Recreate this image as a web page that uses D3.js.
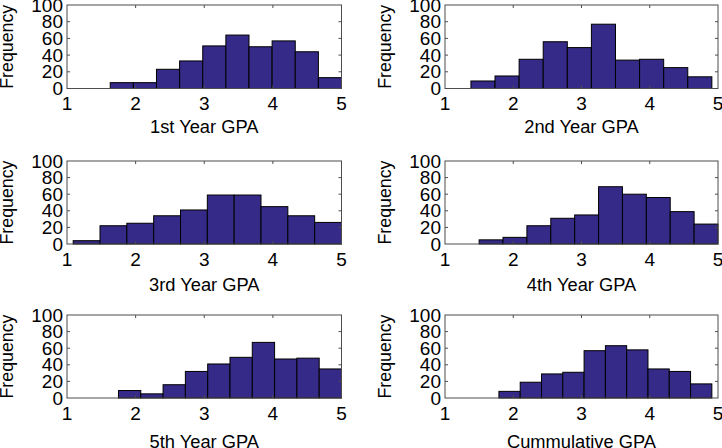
<!DOCTYPE html>
<html>
<head>
<meta charset="utf-8">
<script src="https://cdn.jsdelivr.net/npm/d3@7"></script>
<style>
  body { margin: 0; background: #fff; }
  text { font-family: "Liberation Sans", Arial, sans-serif; fill: #000; }
</style>
</head>
<body>
<div id="chart"></div>
<script>
// histogram counts per panel, 10 bins each
var titles = ["1st Year GPA", "2nd Year GPA", "3rd Year GPA", "4th Year GPA", "5th Year GPA", "Cummulative GPA"];
var counts1 = [7, 7, 23, 33, 51, 64, 50, 57, 44, 13];
var counts2 = [9, 15, 35, 56, 49, 77, 34, 35, 25, 14];
var counts3 = [4, 22, 25, 34, 41, 59, 59, 45, 34, 26];
var counts4 = [5, 8, 22, 31, 35, 69, 60, 56, 39, 24];
var counts5 = [9, 5, 16, 32, 41, 49, 67, 47, 48, 35];
var counts6 = [8, 19, 29, 31, 57, 63, 58, 35, 32, 17];
// data range (min, max GPA) of each histogram
var binLo = [1.63, 1.38, 1.09, 1.50, 1.75, 1.79];
var binHi = [5.00, 4.91, 5.00, 5.00, 5.00, 4.91];
var xTicks = [1, 2, 3, 4, 5];
var yTicks = [0, 20, 40, 60, 80, 100];

var allCounts = [counts1, counts2, counts3, counts4, counts5, counts6];

var svgWidth = 722, svgHeight = 448;
var svg = d3.select("#chart").append("svg")
    .attr("width", svgWidth)
    .attr("height", svgHeight);

// panel boxes [left, top, right, bottom, label y]
var panels = [
    [67, 5, 341.5, 88.5, 127],
    [445, 5, 718, 88.5, 127],
    [67, 161, 341.5, 244, 285],
    [445, 161, 718, 244, 285],
    [67, 315, 341.5, 398, 442],
    [445, 315, 718, 398, 442]
];

var tickLen = 3;
var axisColor = "#4d4d4d";

panels.forEach(function(p, k) {
    var x = d3.scaleLinear().domain([1, 5]).range([p[0], p[2]]);
    var y = d3.scaleLinear().domain([0, 100]).range([p[3], p[1]]);
    var g = svg.append("g");

    var counts = allCounts[k];
    var n = counts.length;
    var w = (binHi[k] - binLo[k]) / n;
    var bins = counts.map(function(c, i) {
        return { x0: binLo[k] + i * w, x1: binLo[k] + (i + 1) * w, c: c };
    });

    g.selectAll("rect")
        .data(bins)
        .enter()
        .append("rect")
        .attr("x", function(d) { return x(d.x0); })
        .attr("width", function(d) { return x(d.x1) - x(d.x0); })
        .attr("y", function(d) { return y(d.c); })
        .attr("height", function(d) { return y(0) - y(d.c); })
        .attr("fill", "#352a87")
        .attr("stroke", "#000")
        .attr("stroke-width", 1);

    // box
    g.append("rect")
        .attr("x", p[0]).attr("y", p[1])
        .attr("width", p[2] - p[0]).attr("height", p[3] - p[1])
        .attr("fill", "none")
        .attr("stroke", axisColor)
        .attr("stroke-width", 1);

    // inward ticks, all four sides
    var xt = xTicks.slice(1, -1);
    var yt = yTicks.slice(1, -1);
    g.selectAll(".xtb").data(xt).enter().append("line")
        .attr("x1", x).attr("x2", x)
        .attr("y1", p[3]).attr("y2", p[3] - tickLen)
        .attr("stroke", axisColor);
    g.selectAll(".xtt").data(xt).enter().append("line")
        .attr("x1", x).attr("x2", x)
        .attr("y1", p[1]).attr("y2", p[1] + tickLen)
        .attr("stroke", axisColor);
    g.selectAll(".ytl").data(yt).enter().append("line")
        .attr("y1", y).attr("y2", y)
        .attr("x1", p[0]).attr("x2", p[0] + tickLen)
        .attr("stroke", axisColor);
    g.selectAll(".ytr").data(yt).enter().append("line")
        .attr("y1", y).attr("y2", y)
        .attr("x1", p[2]).attr("x2", p[2] - tickLen)
        .attr("stroke", axisColor);

    // tick labels
    g.selectAll(".xl").data(xTicks).enter().append("text")
        .attr("x", x)
        .attr("y", p[3] + 15)
        .attr("dy", "0.35em")
        .attr("text-anchor", "middle")
        .style("font-size", "19px")
        .text(function(d) { return d; });
    g.selectAll(".yl").data(yTicks).enter().append("text")
        .attr("x", p[0] - 4)
        .attr("y", y)
        .attr("dy", "0.35em")
        .attr("text-anchor", "end")
        .style("font-size", "19px")
        .text(function(d) { return d; });

    // axis labels
    g.append("text")
        .attr("x", (p[0] + p[2]) / 2)
        .attr("y", p[4])
        .attr("dy", "0.35em")
        .attr("text-anchor", "middle")
        .style("font-size", "18.3px")
        .text(titles[k]);
    g.append("text")
        .attr("transform", "translate(" + (p[0] - 60) + "," + ((p[1] + p[3]) / 2) + ") rotate(-90)")
        .attr("dy", "0.35em")
        .attr("text-anchor", "middle")
        .style("font-size", "17.8px")
        .text("Frequency");
});
</script>
</body>
</html>
